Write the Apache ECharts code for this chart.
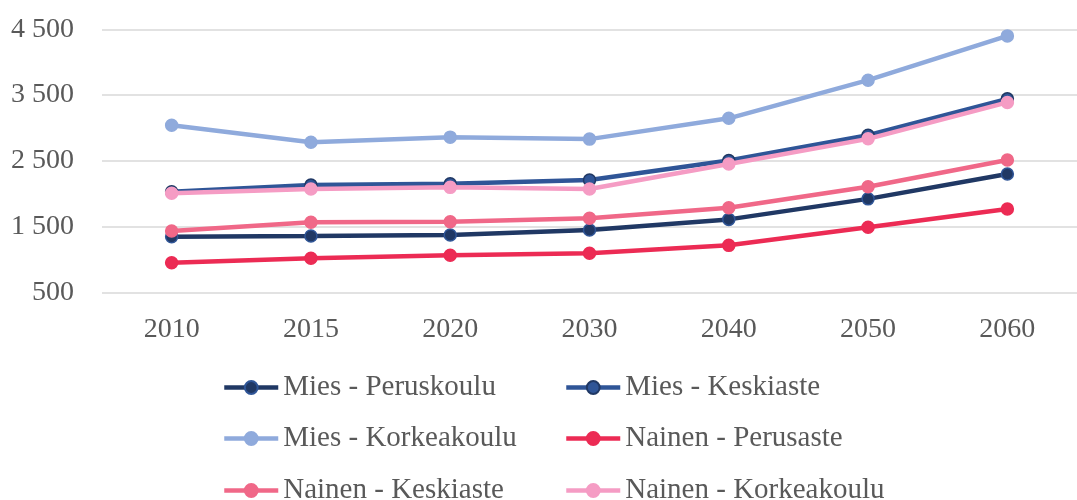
<!DOCTYPE html>
<head>
    <meta charset="utf-8"/>
    <style>
        html,body { height:100%; width:100%; margin:0; padding:0; background:#fff; }
    </style>
</head>
<body>

<div id="line" style="width:1077px;height:500px;"></div>

<script src="https://cdn.jsdelivr.net/npm/echarts@6/dist/echarts.min.js"></script>
<script type="text/javascript">

 // years on the x axis
 var years = ['2010', '2015', '2020', '2030', '2040', '2050', '2060'];

 // series values
 var miesPeruskoulu     = [1345, 1356, 1371, 1447, 1609, 1921, 2298];
 var miesKeskiaste      = [2029, 2131, 2150, 2207, 2505, 2888, 3442];
 var miesKorkeakoulu    = [3040, 2782, 2860, 2830, 3146, 3726, 4400];
 var nainenPerusaste    = [ 950, 1017, 1062, 1093, 1214, 1488, 1766];
 var nainenKeskiaste    = [1432, 1564, 1573, 1625, 1786, 2105, 2511];
 var nainenKorkeakoulu  = [2005, 2070, 2096, 2072, 2450, 2834, 3388];

 var names = ['Mies - Peruskoulu', 'Mies - Keskiaste', 'Mies - Korkeakoulu',
              'Nainen - Perusaste', 'Nainen - Keskiaste', 'Nainen - Korkeakoulu'];
 var values = [miesPeruskoulu, miesKeskiaste, miesKorkeakoulu,
               nainenPerusaste, nainenKeskiaste, nainenKorkeakoulu];
 var colors = ['#203864', '#2f5597', '#8faadc', '#ec2b54', '#f06888', '#f59cc4'];
 var borders = ['#2f5597', '#203864', '#8faadc', '#ec2b54', '#f06888', '#f59cc4'];

 var font = '"Liberation Serif", "DejaVu Serif", serif';

 // 4500 -> "4 500"
 function formatter(value) {
     return String(value).replace(/(\d)(?=(?:\d{3})+$)/g, '$1 ');
 }

 var seriesList = [];
 for (var i = 0; i < names.length; i++) {
     seriesList.push({
         name: names[i],
         type: 'line',
         data: values[i],
         symbol: 'circle',
         symbolSize: 12,
         lineStyle: { width: 4.5, color: colors[i] },
         itemStyle: { color: colors[i], borderColor: borders[i], borderWidth: 1.5 },
         emphasis: { disabled: true },
         z: 2 + i
     });
 }

 // one legend per item, two columns x three rows like the original
 var legendLeft = [222, 564, 222, 564, 222, 564];
 var legendTop  = [373, 373, 424, 424, 476, 476];
 var legends = [];
 for (var j = 0; j < names.length; j++) {
     legends.push({
         data: [names[j]],
         left: legendLeft[j], top: legendTop[j],
         padding: 0,
         itemWidth: 54, itemHeight: 16,
         lineStyle: { width: 4.5 },
         textStyle: { fontFamily: font, fontSize: 29, color: '#595959' },
         selectedMode: false
     });
 }

 var lineOptions = {
     animation: false,
     color: colors,
     grid: { left: 102, top: 29.3, width: 987, height: 263 },
     legend: legends,
     xAxis: {
         type: 'category',
         data: years,
         boundaryGap: true,
         axisLine: { show: false },
         axisTick: { show: false },
         axisLabel: { margin: 23, fontFamily: font, fontSize: 28, color: '#595959' }
     },
     yAxis: {
         type: 'value',
         min: 500, max: 4500, interval: 1000,
         axisLine: { show: false },
         axisTick: { show: false },
         splitLine: { lineStyle: { color: '#d9d9d9', width: 1.5 } },
         axisLabel: { margin: 28, fontFamily: font, fontSize: 28, color: '#595959', formatter: formatter }
     },
     series: seriesList
 };

 var myLineChart = echarts.init(document.getElementById('line'));
 myLineChart.setOption(lineOptions);

</script>
</body>
